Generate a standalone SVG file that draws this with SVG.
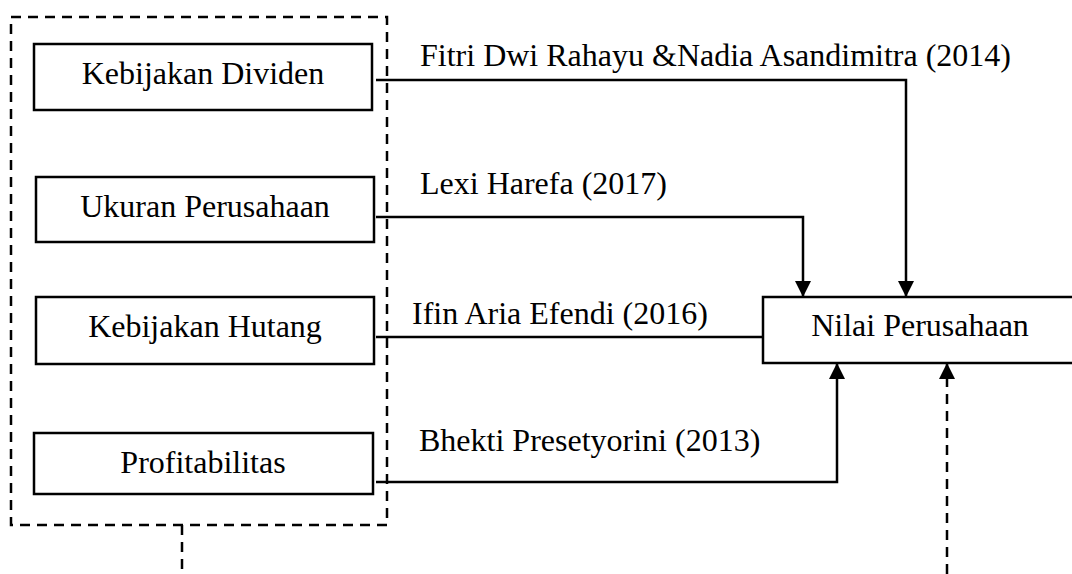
<svg xmlns="http://www.w3.org/2000/svg" width="1072" height="574" viewBox="0 0 1072 574">
<style>
.box{fill:#fff;stroke:#000;stroke-width:2.5}
.dash{fill:none;stroke:#000;stroke-width:2.5;stroke-dasharray:10 7}
.ln{fill:none;stroke:#000;stroke-width:2.5}
text{font-family:"Liberation Serif","Times New Roman",serif;font-size:32px;fill:#000}
.c{text-anchor:middle}
</style>
<defs>
<marker id="ahd" markerWidth="16" markerHeight="16" refX="16" refY="8" orient="auto" markerUnits="userSpaceOnUse" viewBox="0 0 16 16">
<path d="M0,0 L16,8 L0,16 Z" fill="#000"/>
</marker>
</defs>
<g id="group-box">
<rect class="dash" x="11" y="17" width="376" height="508"/>
</g>
<g id="connectors">
<polyline class="ln" points="376,80 906,80 906,297" marker-end="url(#ahd)"/>
<polyline class="ln" points="376,217 803,217 803,297" marker-end="url(#ahd)"/>
<line class="ln" x1="376" y1="337" x2="763" y2="337"/>
<polyline class="ln" points="376,482 837,482 837,363" marker-end="url(#ahd)"/>
<line class="dash" x1="947" y1="574" x2="947" y2="363" marker-end="url(#ahd)"/>
<line class="dash" x1="182" y1="525" x2="182" y2="574"/>
</g>
<g id="node-dividen">
<rect class="box" x="34" y="44" width="338" height="66"/>
<text class="c" x="203" y="84">Kebijakan Dividen</text>
</g>
<g id="node-ukuran">
<rect class="box" x="36" y="177" width="338" height="65"/>
<text class="c" x="205" y="217">Ukuran Perusahaan</text>
</g>
<g id="node-hutang">
<rect class="box" x="36" y="297" width="338" height="67"/>
<text class="c" x="205" y="337">Kebijakan Hutang</text>
</g>
<g id="node-profit">
<rect class="box" x="34" y="433" width="339" height="61"/>
<text class="c" x="203" y="473">Profitabilitas</text>
</g>
<g id="node-nilai">
<rect class="box" x="763" y="297" width="320" height="66"/>
<text class="c" x="920" y="336">Nilai Perusahaan</text>
</g>
<g id="labels">
<text x="420" y="66">Fitri Dwi Rahayu &amp;Nadia Asandimitra (2014)</text>
<text x="420" y="194">Lexi Harefa (2017)</text>
<text x="412" y="324">Ifin Aria Efendi (2016)</text>
<text x="419" y="451">Bhekti Presetyorini (2013)</text>
</g>
</svg>
